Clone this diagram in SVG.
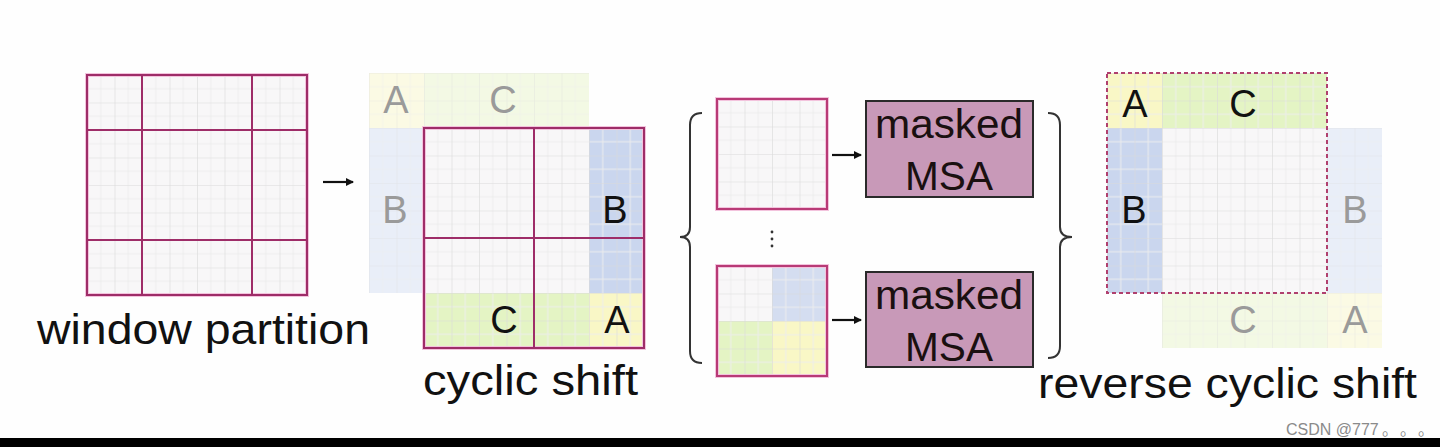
<svg xmlns="http://www.w3.org/2000/svg" width="1440" height="447" viewBox="0 0 1440 447">
<style>
text{font-family:"Liberation Sans",Arial,sans-serif}
.lbl{font-size:42px;fill:#111}
.ltr{font-size:38px;fill:#111;text-anchor:middle}
.fnt{font-size:38px;fill:#9a9a9a;text-anchor:middle}
.msa{font-size:41px;fill:#1a1010}
.cell{fill:#f8f7f8}
.grid{fill:url(#patch)}
.halo{fill:none;stroke:#f3c3dd;stroke-width:4}
.win{fill:none;stroke:#9e2d68;stroke-width:2}
.blue{fill:#cad6ee}
.green{fill:#e4f4c4}
.yellow{fill:#f9f7c6}
.fblue{fill:#e9eef8}
.fgreen{fill:#f3f9e4}
.fyellow{fill:#fbfae4}
.box{fill:#c899b8;stroke:#2a2a2a;stroke-width:2}
.conn{fill:none;stroke:#111;stroke-width:2.2}
.brace{fill:none;stroke:#333;stroke-width:2}
</style>
<defs>
<pattern id="patch" patternUnits="userSpaceOnUse" width="27.5" height="27.5">
<path d="M13.75,0V27.5M0,13.75H27.5" stroke="#ededed" stroke-width="1" fill="none"/>
<path d="M0,0V27.5M0,0H27.5" stroke="#dadada" stroke-width="1.2" fill="none"/>
</pattern>
<marker id="ah" markerWidth="8" markerHeight="8" refX="7" refY="4" orient="auto" markerUnits="userSpaceOnUse">
<path d="M0,0L8,4L0,8Z" fill="#111"/>
</marker>
</defs>
<rect width="1440" height="447" fill="#fefefe"/>

<g id="window-partition">
<g transform="translate(87,75)">
<rect class="cell" width="220" height="220"/>
<rect class="grid" width="220" height="220"/>
<rect class="halo" width="220" height="220"/>
<path class="win" d="M0,0H220V220H0ZM55,0V220M165,0V220M0,55H220M0,165H220"/>
</g>
<text class="lbl" x="37" y="344" textLength="333" lengthAdjust="spacingAndGlyphs">window partition</text>
</g>

<g id="cyclic-shift">
<g transform="translate(369,73)">
<rect class="fyellow" width="55" height="55"/>
<rect class="fgreen" x="55" width="165" height="55"/>
<rect class="fblue" y="55" width="55" height="165"/>
<path d="M0,0H220V55H55V220H0Z" fill="url(#patch)" opacity="0.5"/>
</g>
<text class="fnt" x="396" y="113">A</text>
<text class="fnt" x="503" y="113">C</text>
<text class="fnt" x="395" y="223">B</text>
<g transform="translate(424,128)">
<rect class="cell" width="220" height="220"/>
<rect class="blue" x="165" width="55" height="165"/>
<rect class="green" y="165" width="165" height="55"/>
<rect class="yellow" x="165" y="165" width="55" height="55"/>
<rect class="grid" width="220" height="220"/>
<rect class="halo" width="220" height="220"/>
<path class="win" d="M0,0H220V220H0ZM110,0V220M0,110H220"/>
</g>
<text class="ltr" x="615" y="223">B</text>
<text class="ltr" x="504" y="333">C</text>
<text class="ltr" x="617" y="333">A</text>
<text class="lbl" x="423" y="395" textLength="215" lengthAdjust="spacingAndGlyphs">cyclic shift</text>
</g>

<g id="window-1">
<g transform="translate(717,99)">
<rect class="cell" width="110" height="110"/>
<rect class="grid" width="110" height="110"/>
<rect class="halo" width="110" height="110"/>
<rect class="win" width="110" height="110" style="stroke:#b83a76"/>
</g>
</g>

<g id="window-n">
<g transform="translate(717,266)">
<rect class="cell" width="110" height="110"/>
<rect class="blue" x="55" width="55" height="55" style="opacity:0.8"/>
<rect class="green" y="55" width="55" height="55"/>
<rect class="yellow" x="55" y="55" width="55" height="55"/>
<rect class="grid" width="110" height="110"/>
<rect class="halo" width="110" height="110"/>
<rect class="win" width="110" height="110" style="stroke:#b83a76"/>
</g>
</g>

<g id="ellipsis" fill="#333">
<circle cx="772" cy="232" r="1.4"/>
<circle cx="772" cy="239" r="1.4"/>
<circle cx="772" cy="246" r="1.4"/>
</g>

<g id="msa-1">
<rect class="box" x="866" y="101" width="167" height="96"/>
<text class="msa" x="875" y="138" textLength="148" lengthAdjust="spacingAndGlyphs">masked</text>
<text class="msa" x="905" y="190" textLength="88" lengthAdjust="spacingAndGlyphs">MSA</text>
</g>

<g id="msa-n">
<rect class="box" x="866" y="272" width="167" height="95"/>
<text class="msa" x="875" y="309" textLength="148" lengthAdjust="spacingAndGlyphs">masked</text>
<text class="msa" x="905" y="361" textLength="88" lengthAdjust="spacingAndGlyphs">MSA</text>
</g>

<g id="braces">
<path class="brace" d="M702,113Q690,113 690,125L690,227Q690,237 680,237Q690,237 690,247L690,351Q690,363 702,363"/>
<path class="brace" d="M1048,113Q1060,113 1060,125L1060,227Q1060,237 1072,237Q1060,237 1060,247L1060,346Q1060,358 1048,358"/>
</g>

<g id="reverse-cyclic-shift">
<g transform="translate(1107,73)">
<rect class="cell" x="55" y="55" width="165" height="165"/>
<rect class="yellow" width="55" height="55"/>
<rect class="green" x="55" width="165" height="55"/>
<rect class="blue" y="55" width="55" height="165"/>
<rect class="grid" width="220" height="220"/>
<rect class="fblue" x="220" y="55" width="55" height="165"/>
<rect class="fgreen" x="55" y="220" width="165" height="55"/>
<rect class="fyellow" x="220" y="220" width="55" height="55"/>
<path d="M220,55H275V275H55V220H220Z" fill="url(#patch)" opacity="0.5"/>
<rect width="220" height="220" fill="none" stroke="#b0406e" stroke-width="2" stroke-dasharray="4 3"/>
</g>
<text class="ltr" x="1135" y="117">A</text>
<text class="ltr" x="1243" y="117">C</text>
<text class="ltr" x="1134" y="223">B</text>
<text class="fnt" x="1355" y="223">B</text>
<text class="fnt" x="1243" y="333">C</text>
<text class="fnt" x="1355" y="333">A</text>
<text class="lbl" x="1038" y="398" textLength="379" lengthAdjust="spacingAndGlyphs">reverse cyclic shift</text>
</g>

<g id="connectors">
<line class="conn" x1="323" y1="182" x2="353" y2="182" marker-end="url(#ah)"/>
<line class="conn" x1="832" y1="155" x2="861" y2="155" marker-end="url(#ah)"/>
<line class="conn" x1="832" y1="320" x2="861" y2="320" marker-end="url(#ah)"/>
</g>

<rect x="0" y="438" width="1440" height="9" fill="#000"/>
<text x="1286" y="435" style="font-family:'Liberation Sans','Noto Sans CJK SC',sans-serif;font-size:16px;fill:#8a8a8a">CSDN @777<tspan x="1382">。</tspan><tspan x="1400">。</tspan><tspan x="1418">。</tspan></text>
</svg>
